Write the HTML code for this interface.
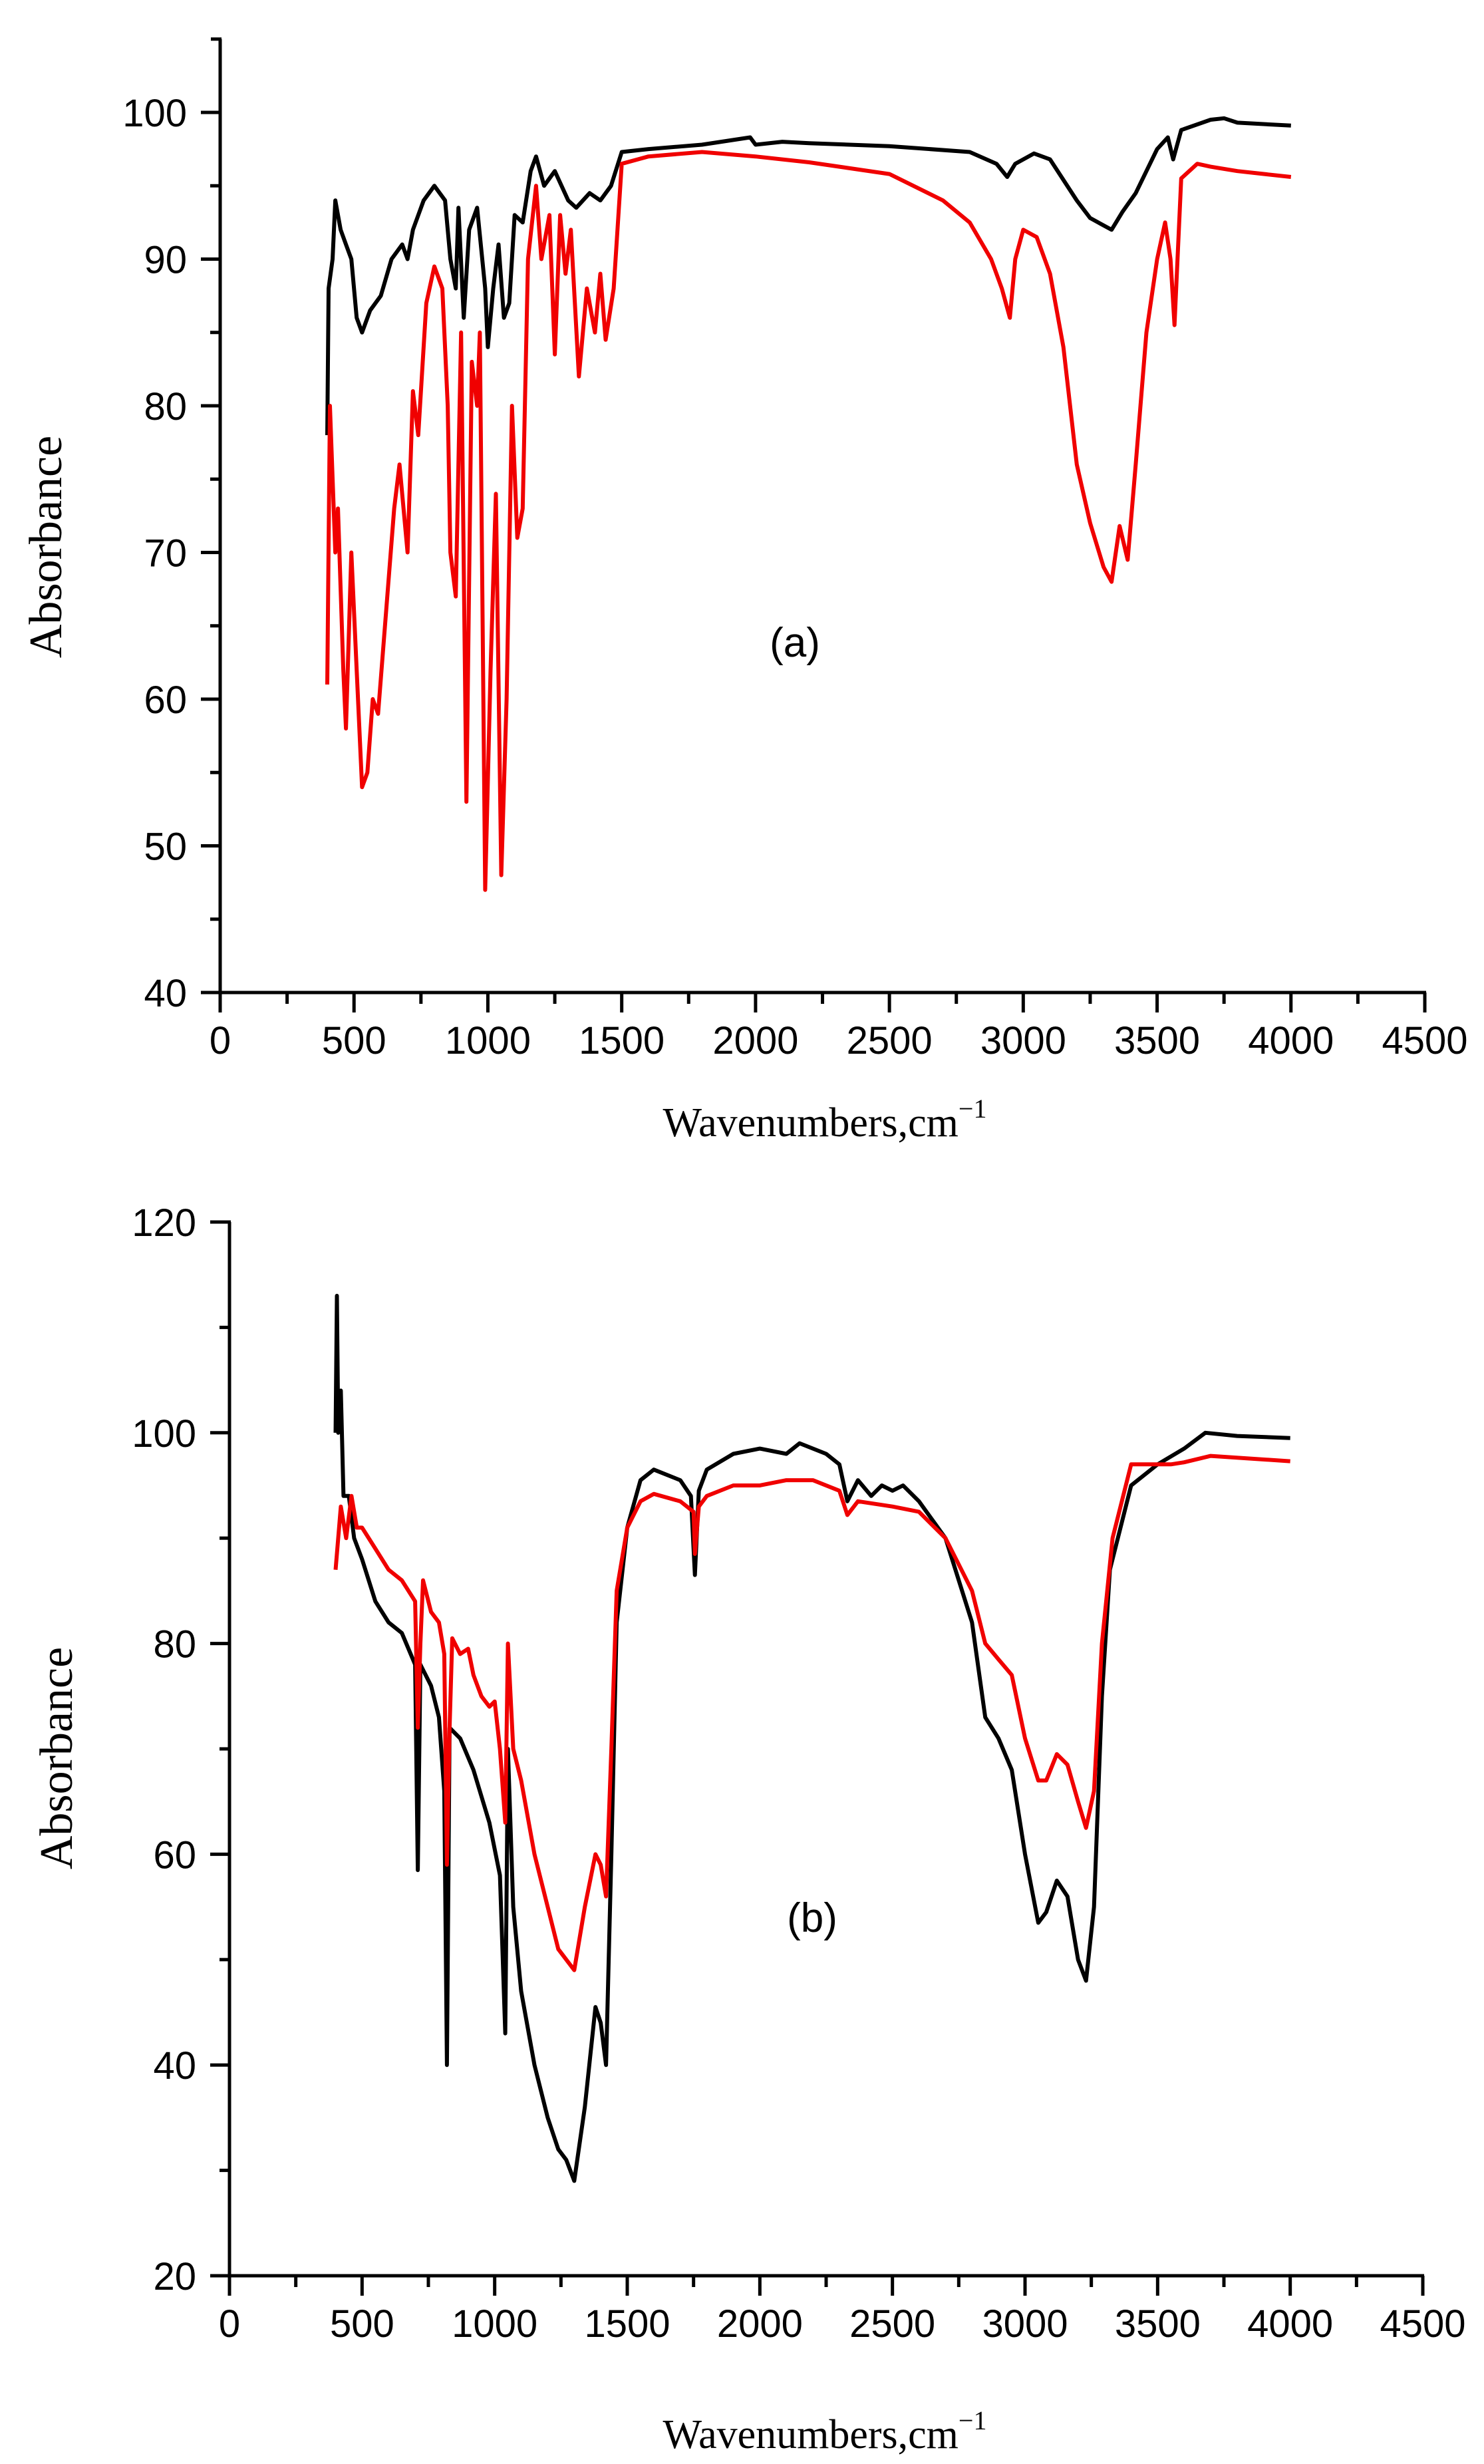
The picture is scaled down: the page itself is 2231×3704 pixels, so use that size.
<!DOCTYPE html>
<html><head><meta charset="utf-8"><style>
html,body{margin:0;padding:0;background:#fff}
svg{display:block}
text{font-family:"Liberation Sans",sans-serif;fill:#000}
.serif{font-family:"Liberation Serif",serif}
</style></head><body>
<svg id="chart" width="2231" height="3704" viewBox="0 0 2231 3704"></svg>
<script>
// Panel (a) data
const aBlackX=[400,405,420,430,450,470,490,510,530,560,600,640,680,700,720,760,800,840,860,880,890,910,930,960,990,1000,1020,1040,1060,1080,1100,1130,1160,1180,1210,1250,1300,1330,1380,1420,1460,1500,1600,1800,1980,2000,2100,2200,2500,2800,2900,2940,2970,3040,3100,3200,3250,3330,3370,3420,3500,3540,3560,3590,3700,3750,3800,4000];
const aBlackY=[78,88,90,94,92,91,90,86,85,86.5,87.5,90,91,90,92,94,95,94,90,88,93.5,86,92,93.5,88,84,88,91,86,87,93,92.5,96,97,95,96,94,93.5,94.5,94,95,97.3,97.5,97.8,98.3,97.8,98,97.9,97.7,97.3,96.5,95.6,96.5,97.2,96.8,94,92.8,92,93.2,94.5,97.5,98.3,96.8,98.8,99.5,99.6,99.3,99.1];
const aRedX=[400,410,430,440,460,470,490,510,530,550,570,590,620,650,670,700,720,740,770,800,830,850,860,880,900,920,940,960,970,990,1010,1030,1050,1070,1090,1110,1130,1150,1180,1200,1230,1250,1270,1290,1310,1340,1370,1400,1420,1440,1470,1500,1600,1800,2000,2200,2500,2700,2800,2880,2920,2950,2970,3000,3050,3100,3150,3200,3250,3300,3330,3360,3390,3420,3460,3500,3530,3550,3565,3590,3650,3700,3800,4000];
const aRedY=[61,80,70,73,62,58,70,62,54,55,60,59,66,73,76,70,81,78,87,89.5,88,80,70,67,85,53,83,80,85,47,62,74,48,60,80,71,73,90,95,90,93,83.5,93,89,92,82,88,85,89,84.5,88,96.5,97,97.3,97,96.6,95.8,94,92.5,90,88,86,90,92,91.5,89,84,76,72,69,68,71.8,69.5,76,85,90,92.5,90,85.5,95.5,96.5,96.3,96,95.6];
// Panel (b) data
const bBlackX=[400,405,410,420,430,450,470,500,550,600,650,700,710,720,760,790,810,820,830,870,920,980,1020,1040,1050,1070,1100,1150,1200,1240,1270,1300,1340,1380,1400,1420,1440,1460,1500,1550,1600,1700,1740,1755,1770,1800,1900,2000,2100,2150,2250,2300,2330,2370,2420,2460,2500,2540,2600,2700,2800,2850,2900,2950,3000,3050,3080,3120,3160,3200,3230,3260,3290,3320,3400,3500,3600,3680,3800,4000];
const bBlackY=[100,113,100,104,94,94,90,88,84,82,81,78,58.5,78,76,73,66,40,72,71,68,63,58,43,70,55,47,40,35,32,31,29,36,45.5,44,40,60,82,91,95.5,96.5,95.5,94,86.5,94.5,96.5,98,98.5,98,99,98,97,93.5,95.5,94,95,94.5,95,93.5,90,82,73,71,68,60,53.5,54.5,57.5,56,50,48,55,75,87,95,97,98.5,100,99.7,99.5];
const bRedX=[400,420,440,460,480,500,550,600,650,700,710,720,730,760,790,810,820,830,840,870,900,920,950,980,1000,1020,1040,1050,1070,1100,1150,1200,1240,1300,1340,1380,1400,1420,1440,1460,1500,1550,1600,1700,1750,1755,1770,1800,1900,2000,2100,2200,2300,2330,2370,2500,2600,2700,2800,2850,2900,2950,3000,3050,3080,3120,3160,3200,3230,3260,3290,3330,3400,3500,3550,3600,3700,4000];
const bRedY=[87,93,90,94,91,91,89,87,86,84,72,80,86,83,82,79,59,72,80.5,79,79.5,77,75,74,74.5,70,63,80,70,67,60,55,51,49,55,60,59,56,70,85,91,93.5,94.2,93.5,92.5,88.5,93,94,95,95,95.5,95.5,94.5,92.2,93.5,93,92.5,90,85,80,78.5,77,71,67,67,69.5,68.5,65,62.5,66,80,90,97,97,97,97.2,97.8,97.3];
const xTicks=[0,500,1000,1500,2000,2500,3000,3500,4000,4500];
const aYTicks=[40,50,60,70,80,90,100];
const bYTicks=[20,40,60,80,100,120];

const NS="http://www.w3.org/2000/svg";
const svg=document.getElementById('chart');
function mk(tag,attrs,parent){const e=document.createElementNS(NS,tag);for(const k in attrs)e.setAttribute(k,attrs[k]);(parent||svg).appendChild(e);return e;}

function panel(cfg){
  const g=mk('g',{});
  
  
  const sx=v=>cfg.x0+(v-0)*(cfg.x1-cfg.x0)/4500;
  const sy=v=>cfg.yb+(v-cfg.ymin)*(cfg.yt-cfg.yb)/(cfg.ymax-cfg.ymin);
  const series=[[cfg.blackX,cfg.blackY,'#000','black'],[cfg.redX,cfg.redY,'#f00000','red']];
  for(const [xs,ys,col,nm] of series){
    let d='';
    for(let i=0;i<xs.length;i++)d+=(i?'L':'M')+sx(xs[i]).toFixed(1)+','+sy(ys[i]).toFixed(1);
    const p=mk('path',{d:d,fill:'none',stroke:col,'stroke-width':6,'stroke-linejoin':'round'},g);
    
    
  }
  const ya=mk('line',{x1:cfg.x0,y1:cfg.yb+2,x2:cfg.x0,y2:sy(cfg.ytop),stroke:'#000','stroke-width':5},g);
  
  
  const xa=mk('line',{x1:cfg.x0-2,y1:cfg.yb,x2:cfg.x1+2,y2:cfg.yb,stroke:'#000','stroke-width':5},g);
  
  
  mk('line',{x1:cfg.x0-14,y1:sy(cfg.ytop),x2:cfg.x0+2,y2:sy(cfg.ytop),stroke:'#000','stroke-width':5},g);
  for(const t of xTicks){
    const x=sx(t);
    mk('line',{x1:x,y1:cfg.yb,x2:x,y2:cfg.yb+30,stroke:'#000','stroke-width':5},g);
    if(t<4500)mk('line',{x1:sx(t+250),y1:cfg.yb,x2:sx(t+250),y2:cfg.yb+17,stroke:'#000','stroke-width':5},g);
    const tl=mk('text',{x:x,y:cfg.yb+92,'text-anchor':'middle','font-size':58},g);
    tl.textContent=t;
    
    
  }
  for(const t of cfg.yTicks){
    const y=sy(t);
    mk('line',{x1:cfg.x0-29,y1:y,x2:cfg.x0,y2:y,stroke:'#000','stroke-width':5},g);
    const mt=t+cfg.minor;
    if(mt<cfg.ytop-0.01)mk('line',{x1:cfg.x0-15,y1:sy(mt),x2:cfg.x0,y2:sy(mt),stroke:'#000','stroke-width':5},g);
    const tl=mk('text',{x:cfg.x0-50,y:y+21,'text-anchor':'end','font-size':58},g);
    tl.textContent=t;
    
    
  }
  const xt=mk('text',{x:cfg.xtX,y:cfg.xtY,'text-anchor':'middle','font-size':62,class:'serif'},g);
  xt.innerHTML='Wavenumbers,cm<tspan dy="-28" font-size="40">−1</tspan>';
  
  
  const yt=mk('text',{x:0,y:0,'text-anchor':'middle','font-size':70,class:'serif',transform:'translate('+cfg.ytX+','+cfg.ytY+') rotate(-90)'},g);
  yt.textContent='Absorbance';
  
  
  const pl=mk('text',{x:cfg.plX,y:cfg.plY,'text-anchor':'middle','font-size':62},g);
  pl.textContent='('+cfg.tag+')';
  
  
}

panel({name:'panel-a',tag:'a',x0:331,x1:2142,yb:1492,yt:169,ymin:40,ymax:100,ytop:105,minor:5,yTicks:aYTicks,
  blackX:aBlackX,blackY:aBlackY,redX:aRedX,redY:aRedY,xtX:1240,xtY:1708,ytX:92,ytY:822,plX:1195,plY:987});
panel({name:'panel-b',tag:'b',x0:345,x1:2139,yb:3421,yt:1837,ymin:20,ymax:120,ytop:120,minor:10,yTicks:bYTicks,
  blackX:bBlackX,blackY:bBlackY,redX:bRedX,redY:bRedY,xtX:1240,xtY:3680,ytX:108,ytY:2643,plX:1221,plY:2904});
</script>
</body></html>
